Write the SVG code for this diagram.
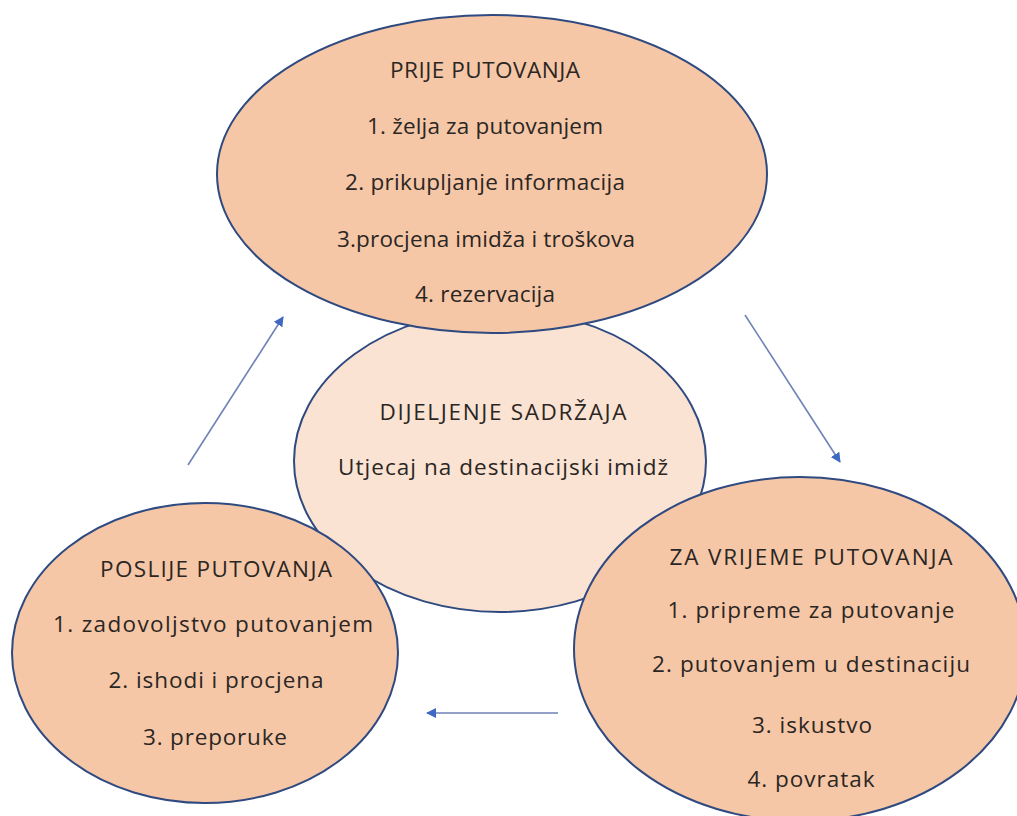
<svg xmlns="http://www.w3.org/2000/svg" width="1017" height="816" viewBox="0 0 1017 816">
<style>
.bg{fill:#ffffff}
.main{fill:#F6C7A6;stroke:#2F4A80;stroke-width:2}
.center{fill:#FBE3D3;stroke:#2F4A80;stroke-width:2}
text{font-family:"Open Sans","Lato","Liberation Sans",sans-serif;font-size:22.5px;fill:#2a2624;text-anchor:middle}
.conn{stroke:#6F82B8;stroke-width:1.6;fill:none}
</style>
<defs>
<marker id="ah" markerWidth="10" markerHeight="10" refX="9" refY="5" orient="auto" markerUnits="userSpaceOnUse">
<path d="M0,0 L10,5 L0,10 Z" fill="#3F68C2"/>
</marker>
</defs>
<rect class="bg" x="0" y="0" width="1017" height="816"/>
<g id="node-center">
<ellipse class="center" cx="500" cy="461" rx="206" ry="151"/>
<text x="503" y="420" textLength="247">DIJELJENJE SADRŽAJA</text>
<text x="503" y="475" textLength="330">Utjecaj na destinacijski imidž</text>
</g>
<g id="node-prije">
<ellipse class="main" cx="492" cy="174" rx="275" ry="159"/>
<text x="485" y="78" textLength="190">PRIJE PUTOVANJA</text>
<text x="485" y="134" textLength="236">1. želja za putovanjem</text>
<text x="485" y="190" textLength="280">2. prikupljanje informacija</text>
<text x="486" y="247" textLength="298">3.procjena imidža i troškova</text>
<text x="485" y="302" textLength="140">4. rezervacija</text>
</g>
<g id="node-poslije">
<ellipse class="main" cx="205" cy="653" rx="193" ry="150"/>
<text x="216" y="577" textLength="232">POSLIJE PUTOVANJA</text>
<text x="213" y="632" textLength="320">1. zadovoljstvo putovanjem</text>
<text x="216" y="688" textLength="215">2. ishodi i procjena</text>
<text x="215" y="745" textLength="144">3. preporuke</text>
</g>
<g id="node-zavrijeme">
<ellipse class="main" cx="800" cy="649" rx="226" ry="172"/>
<text x="811" y="565" textLength="283">ZA VRIJEME PUTOVANJA</text>
<text x="811" y="618" textLength="287">1. pripreme za putovanje</text>
<text x="811" y="672" textLength="318">2. putovanjem u destinaciju</text>
<text x="812" y="733" textLength="120">3. iskustvo</text>
<text x="811" y="787" textLength="127">4. povratak</text>
</g>
<g id="connectors">
<line class="conn" x1="188" y1="465" x2="283" y2="317" marker-end="url(#ah)"/>
<line class="conn" x1="745" y1="315" x2="840" y2="462" marker-end="url(#ah)"/>
<line class="conn" x1="558" y1="713" x2="427" y2="713" marker-end="url(#ah)"/>
</g>
</svg>
